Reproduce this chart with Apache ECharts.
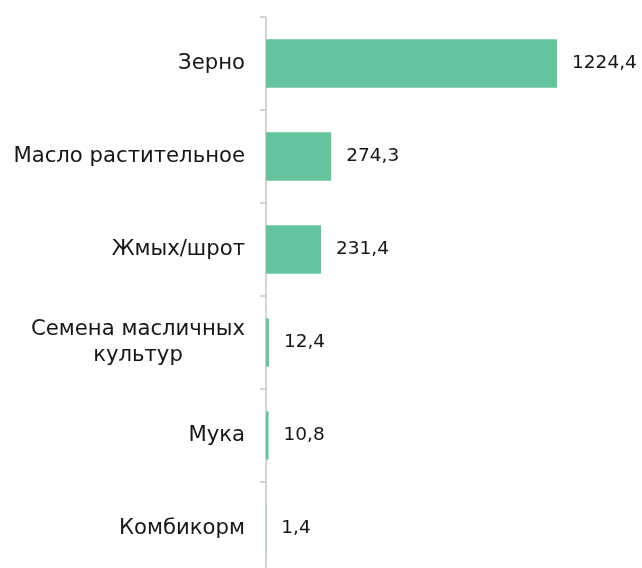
<!DOCTYPE html>
<html><head><meta charset="utf-8">
<script src="https://cdn.jsdelivr.net/npm/echarts@6/dist/echarts.min.js"></script>
<style>html,body{margin:0;padding:0;background:#fff;overflow:hidden}#c{width:642px;height:575px}</style>
</head><body><div id="c"></div>
<script>
const categories = ["Зерно", "Масло растительное", "Жмых/шрот", "Семена масличных\nкультур", "Мука", "Комбикорм"];
const values = [1224.4, 274.3, 231.4, 12.4, 10.8, 1.4];
const chart = echarts.init(document.getElementById('c'));
const fmt = v => String(v).replace('.', ',');
const FONT = 'DejaVu Sans', FS = 21.2;
const ctx = document.createElement('canvas').getContext('2d');
ctx.font = FS + 'px "' + FONT + '"';
const lineW = s => Math.max(...s.split('\n').map(l => ctx.measureText(l).width));
chart.setOption({
  animation: false,
  grid: { left: 266, top: 17, bottom: 0, width: 356.6, containLabel: false },
  xAxis: { type: 'value', min: 0, max: 1500, show: false },
  yAxis: {
    type: 'category', data: categories, inverse: true,
    axisLine: { show: true, lineStyle: { color: '#d4d4d4', width: 2 } },
    axisTick: { show: true, length: 6, lineStyle: { color: '#d4d4d4', width: 2 } },
    axisLabel: {
      margin: 21, color: '#161616', fontSize: FS, fontFamily: FONT, lineHeight: 26, align: 'right',
      formatter: v => v.indexOf('\n') < 0 ? v : v.split('\n').map(l => '{c|' + l + '}').join('\n'),
      rich: { c: { width: lineW(categories[3]), align: 'center', fontSize: FS, fontFamily: FONT, color: '#161616', lineHeight: 26 } }
    }
  },
  series: [{
    type: 'bar', data: values, barWidth: '52%',
    itemStyle: { color: '#65c49d' },
    label: { show: true, position: 'right', distance: 15, color: '#161616', fontSize: 18.5, fontFamily: FONT, formatter: p => fmt(p.value) }
  }]
});
</script></body></html>
